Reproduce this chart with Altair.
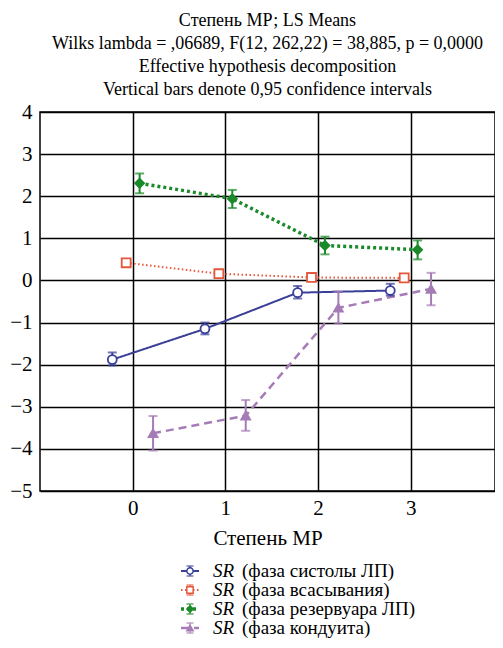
import altair as alt
import pandas as pd

levels = [0, 1, 2, 3]
series = ["систолы ЛП", "всасывания", "резервуара ЛП", "кондуита"]
labels = ["(фаза систолы ЛП)", "(фаза всасывания)", "(фаза резервуара ЛП)", "(фаза кондуита)"]
offsets = [-0.22, -0.07, 0.075, 0.22]

systole_mean = [-1.88, -1.15, -0.29, -0.24]
systole_lo = [-2.02, -1.28, -0.43, -0.36]
systole_hi = [-1.71, -1.00, -0.13, -0.08]

suction_mean = [0.42, 0.16, 0.07, 0.06]
suction_lo = [0.38, 0.12, 0.03, 0.02]
suction_hi = [0.46, 0.20, 0.11, 0.10]

reservoir_mean = [2.31, 1.94, 0.83, 0.73]
reservoir_lo = [2.07, 1.72, 0.62, 0.50]
reservoir_hi = [2.54, 2.15, 1.04, 0.95]

conduit_mean = [-3.63, -3.21, -0.65, -0.20]
conduit_lo = [-4.04, -3.57, -1.02, -0.59]
conduit_hi = [-3.22, -2.84, -0.26, 0.18]

colors = ["#3a3f98", "#e5573b", "#1b8a2a", "#a67cb6"]
dashes = [[1, 0], [1.5, 2.5], [3, 3], [8, 5]]
widths = [2, 2, 3.5, 2.5]
shapes = ["circle", "square", "diamond", "triangle-up"]
fills = ["white", "white", "#1b8a2a", "#a67cb6"]

title_lines = [
    "Степень МР; LS Means",
    "Wilks lambda = ,06689, F(12, 262,22) = 38,885, p = 0,0000",
    "Effective hypothesis decomposition",
    "Vertical bars denote 0,95 confidence intervals",
]

FONT = "Liberation Serif"

all_means = [systole_mean, suction_mean, reservoir_mean, conduit_mean]
all_lo = [systole_lo, suction_lo, reservoir_lo, conduit_lo]
all_hi = [systole_hi, suction_hi, reservoir_hi, conduit_hi]

rows = []
for s, off, m, lo, hi in zip(series, offsets, all_means, all_lo, all_hi):
    for lv, mv, l, h in zip(levels, m, lo, hi):
        rows.append({"series": s, "level": lv, "xpos": lv + off, "value": mv, "lo": l, "hi": h})
df = pd.DataFrame(rows)

ldf = pd.DataFrame({"series": series, "sr": ["SR"] * 4, "label": labels})

col = alt.Scale(domain=series, range=colors)
dash = alt.Scale(domain=series, range=dashes)
wid = alt.Scale(type="ordinal", domain=series, range=widths)
shp = alt.Scale(domain=series, range=shapes)
fil = alt.Scale(domain=series, range=fills)

X = alt.X("xpos:Q", scale=alt.Scale(domain=[-1, 3.91], nice=False, zero=False),
          axis=alt.Axis(values=levels, title="Степень МР", format="d"))
Y = alt.Y("value:Q", scale=alt.Scale(domain=[-5, 4], nice=False, zero=False),
          axis=alt.Axis(values=list(range(-5, 5)), title=None, format="d"))

base = alt.Chart(df)
lines = base.mark_line().encode(
    x=X, y=Y,
    color=alt.Color("series:N", scale=col, legend=None),
    strokeDash=alt.StrokeDash("series:N", scale=dash, legend=None),
    strokeWidth=alt.StrokeWidth("series:O", scale=wid, legend=None),
    order="xpos:Q",
)
bars = base.mark_rule(strokeWidth=2).encode(
    x="xpos:Q", y="lo:Q", y2="hi:Q",
    color=alt.Color("series:N", scale=col, legend=None),
)
cap_lo = base.mark_tick(orient="horizontal", size=9, thickness=2).encode(
    x="xpos:Q", y="lo:Q", color=alt.Color("series:N", scale=col, legend=None))
cap_hi = base.mark_tick(orient="horizontal", size=9, thickness=2).encode(
    x="xpos:Q", y="hi:Q", color=alt.Color("series:N", scale=col, legend=None))
pts = base.mark_point(size=80, strokeWidth=1.8, opacity=1).encode(
    x="xpos:Q", y="value:Q",
    shape=alt.Shape("series:N", scale=shp, legend=None),
    fill=alt.Fill("series:N", scale=fil, legend=None),
    stroke=alt.Stroke("series:N", scale=col, legend=None),
)
main = alt.layer(lines, bars, cap_lo, cap_hi, pts)

LY = alt.Y("series:N", scale=alt.Scale(type="point", domain=series, range=[459, 516], padding=0), axis=None)
lb = alt.Chart(ldf)
l_line = lb.mark_rule().encode(
    x=alt.value(141), x2=alt.value(159), y=LY,
    color=alt.Color("series:N", scale=col, legend=None),
    strokeDash=alt.StrokeDash("series:N", scale=dash, legend=None),
    strokeWidth=alt.StrokeWidth("series:O", scale=wid, legend=None),
)
l_bar = lb.mark_tick(orient="vertical", size=10, thickness=1.5).encode(
    x=alt.value(150), y=LY, color=alt.Color("series:N", scale=col, legend=None))
l_cap1 = lb.mark_tick(orient="horizontal", size=7, thickness=1.5).encode(
    x=alt.value(150), y=LY, yOffset=alt.value(-5), color=alt.Color("series:N", scale=col, legend=None))
l_cap2 = lb.mark_tick(orient="horizontal", size=7, thickness=1.5).encode(
    x=alt.value(150), y=LY, yOffset=alt.value(5), color=alt.Color("series:N", scale=col, legend=None))
l_pt = lb.mark_point(size=40, strokeWidth=1.5, opacity=1).encode(
    x=alt.value(150), y=LY,
    shape=alt.Shape("series:N", scale=shp, legend=None),
    fill=alt.Fill("series:N", scale=fil, legend=None),
    stroke=alt.Stroke("series:N", scale=col, legend=None),
)
l_sr = lb.mark_text(align="left", baseline="middle", font=FONT, fontSize=19, fontStyle="italic", color="black").encode(
    x=alt.value(173), y=LY, text="sr:N")
l_txt = lb.mark_text(align="left", baseline="middle", font=FONT, fontSize=19, color="black").encode(
    x=alt.value(202), y=LY, text="label:N")
legend = alt.layer(l_line, l_bar, l_cap1, l_cap2, l_pt, l_sr, l_txt)

chart = alt.layer(main, legend).resolve_scale(y="independent").properties(
    width=455, height=379,
    title=alt.TitleParams(text=title_lines, font=FONT, fontSize=18, fontWeight="normal",
                          lineHeight=23, offset=2, anchor="middle", color="black"),
    autosize=alt.AutoSizeParams(type="none"),
    padding={"left": 32, "top": 104, "right": 0, "bottom": 149},
).configure_view(stroke="black", strokeWidth=1.5).configure_axis(
    grid=True, gridColor="black", gridWidth=1.5, gridOpacity=1,
    tickSize=0, domain=False,
    labelFont=FONT, labelFontSize=21, labelColor="black",
    titleFont=FONT, titleFontSize=21, titleFontWeight="normal", titleColor="black",
).configure_axisX(labelPadding=6, titlePadding=9).configure_axisY(labelPadding=8)

chart.save("out.html", embed_options={"renderer": "svg", "actions": False})
